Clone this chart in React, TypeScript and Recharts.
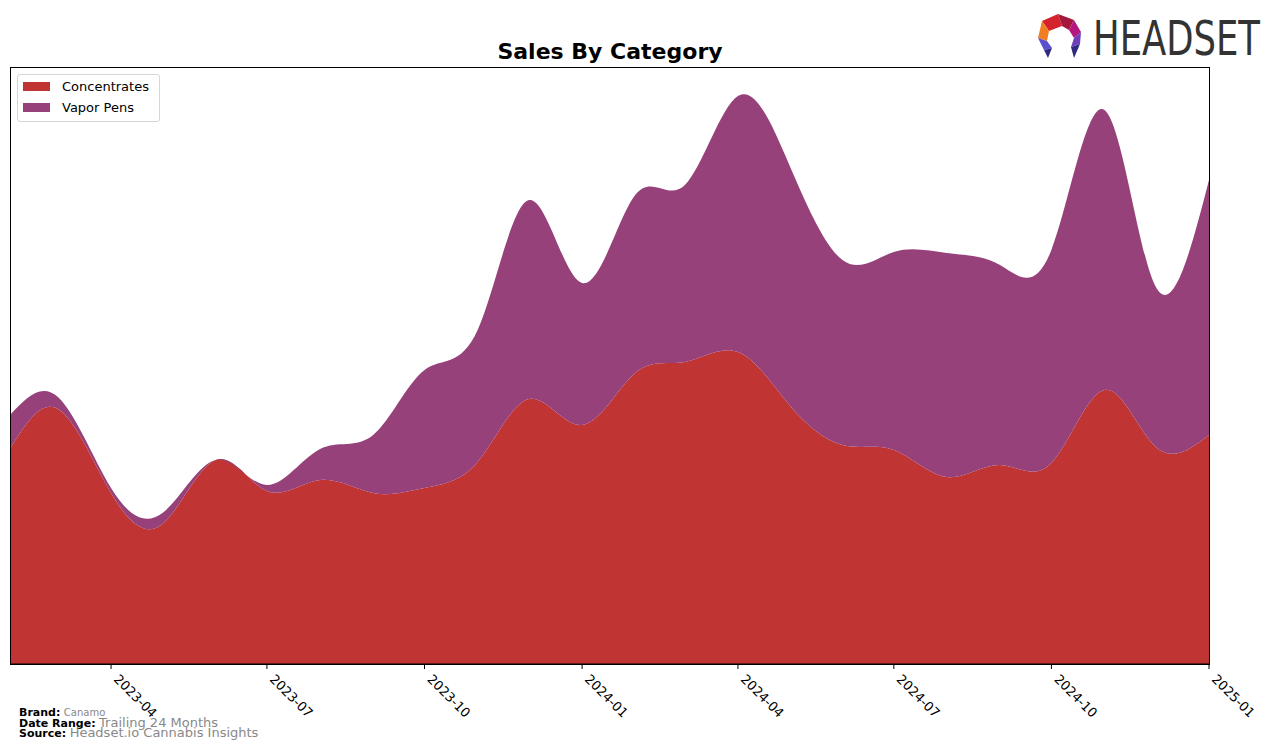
import React from 'react';
import { AreaChart, Area, XAxis, YAxis } from 'recharts';

const months = [
  '2023-02', '2023-03', '2023-04', '2023-05', '2023-06', '2023-07',
  '2023-08', '2023-09', '2023-10', '2023-11', '2023-12', '2024-01',
  '2024-02', '2024-03', '2024-04', '2024-05', '2024-06', '2024-07',
  '2024-08', '2024-09', '2024-10', '2024-11', '2024-12', '2025-01',
];

const concentrates = [
  215, 255, 171, 140, 204, 173, 184, 171, 176, 202, 265, 239,
  291, 302, 312, 259, 219, 214, 187, 199, 201, 274, 217, 229,
];

const vaporPens = [
  34, 12, 5, 11, 0, 6, 31, 58, 118, 132, 199, 142,
  178, 177, 256, 240, 185, 198, 224, 200, 213, 280, 160, 255,
];

const tickLabels = ['2023-04', '2023-07', '2023-10', '2024-01', '2024-04', '2024-07', '2024-10', '2025-01'];

const toTime = (m: string) => {
  const [y, mo] = m.split('-').map(Number);
  return Date.UTC(y, mo - 1, 1);
};

const data = months.map((m, i) => ({
  t: toTime(m),
  Concentrates: concentrates[i],
  'Vapor Pens': vaporPens[i],
}));

const RED = '#C13434';
const PURPLE = '#96417A';
const FONT = '"DejaVu Sans", sans-serif';

function fmt(t: number) {
  const d = new Date(t);
  const m = d.getUTCMonth() + 1;
  return `${d.getUTCFullYear()}-${m < 10 ? '0' + m : m}`;
}

function RotTick(props: any) {
  const { x, y, payload } = props;
  return (
    <text
      x={x + 2}
      y={y + 9}
      transform={`rotate(45, ${x + 2}, ${y + 9})`}
      textAnchor="start"
      fontFamily={FONT}
      fontSize={13}
      fill="#000"
    >
      {fmt(payload.value)}
    </text>
  );
}

function LegendBox() {
  const items = [
    { name: 'Concentrates', color: RED },
    { name: 'Vapor Pens', color: PURPLE },
  ];
  return (
    <div
      style={{
        border: '1px solid #d6d6d6',
        borderRadius: 3,
        background: 'rgba(255,255,255,0.8)',
        padding: '1px 6px 3px 5px',
        width: 130,
        fontFamily: FONT,
        fontSize: 13,
      }}
    >
      {items.map((it) => (
        <div key={it.name} style={{ display: 'flex', alignItems: 'center', height: 21 }}>
          <span style={{ display: 'inline-block', width: 27, height: 9, background: it.color, marginRight: 12 }} />
          <span>{it.name}</span>
        </div>
      ))}
    </div>
  );
}

function Logo() {
  return (
    <svg width={236} height={62} viewBox="0 0 236 62">
      <polygon points="6,13 22,6 26,18 13,23" fill="#D4232E" />
      <polygon points="22,6 38,12 33,22 26,18" fill="#A6173E" />
      <polygon points="38,12 45,24 38,30 33,22" fill="#B5177F" />
      <polygon points="6,13 13,23 11,33 2,30" fill="#F07D22" />
      <polygon points="2,30 11,33 16,40 8,42" fill="#5A4FCF" />
      <polygon points="45,24 38,30 35,39 44,36" fill="#6E3FB8" />
      <polygon points="8,42 16,40 12,50" fill="#2E2A80" />
      <polygon points="44,36 35,39 38,50" fill="#2E2A80" />
      <g transform="translate(57,47) scale(1,1.2)">
        <text x={0} y={0} fontFamily='"Liberation Sans Narrow", "DejaVu Sans Condensed", sans-serif' fontSize={40} fill="#333" textLength={167} lengthAdjust="spacingAndGlyphs">
          HEADSET
        </text>
      </g>
    </svg>
  );
}

export default function App() {
  const t0 = toTime(months[0]);
  const t1 = toTime(months[months.length - 1]);
  return (
    <div style={{ position: 'absolute', left: 0, top: 0, width: 1276, height: 748, background: '#fff', fontFamily: FONT }}>
      <div style={{ position: 'absolute', left: 0, top: 40, width: 1220, textAlign: 'center', fontWeight: 'bold', fontSize: 22, lineHeight: '24px' }}>
        Sales By Category
      </div>
      <div style={{ position: 'absolute', left: 1036, top: 8 }}>
        <Logo />
      </div>
      <AreaChart width={1276} height={748} data={data} margin={{ top: 67, left: 10, right: 67, bottom: 24 }}>
        <XAxis
          dataKey="t"
          type="number"
          domain={[t0, t1]}
          ticks={tickLabels.map(toTime)}
          tick={<RotTick />}
          tickSize={5}
          height={60}
          stroke="#000"
          allowDataOverflow
        />
        <YAxis hide domain={[0, 597]} allowDataOverflow />
        <Area type="natural" dataKey="Concentrates" stackId="a" stroke="none" fill={RED} fillOpacity={1} isAnimationActive={false} />
        <Area type="natural" dataKey="Vapor Pens" stackId="a" stroke="none" fill={PURPLE} fillOpacity={1} isAnimationActive={false} />
      </AreaChart>
      <div style={{ position: 'absolute', left: 10, top: 67, width: 1200, height: 598, border: '1px solid #000', boxSizing: 'border-box', pointerEvents: 'none' }} />
      <div style={{ position: 'absolute', left: 17, top: 74 }}>
        <LegendBox />
      </div>
      <div style={{ position: 'absolute', left: 19, top: 708, fontSize: 11, lineHeight: '9.5px', whiteSpace: 'nowrap' }}>
        <div><b>Brand:</b> <span style={{ color: '#888', fontSize: 10 }}>Canamo</span></div>
        <div><b>Date Range:</b> <span style={{ color: '#888', fontSize: 13 }}>Trailing 24 Months</span></div>
        <div><b>Source:</b> <span style={{ color: '#888', fontSize: 13 }}>Headset.io Cannabis Insights</span></div>
      </div>
    </div>
  );
}
